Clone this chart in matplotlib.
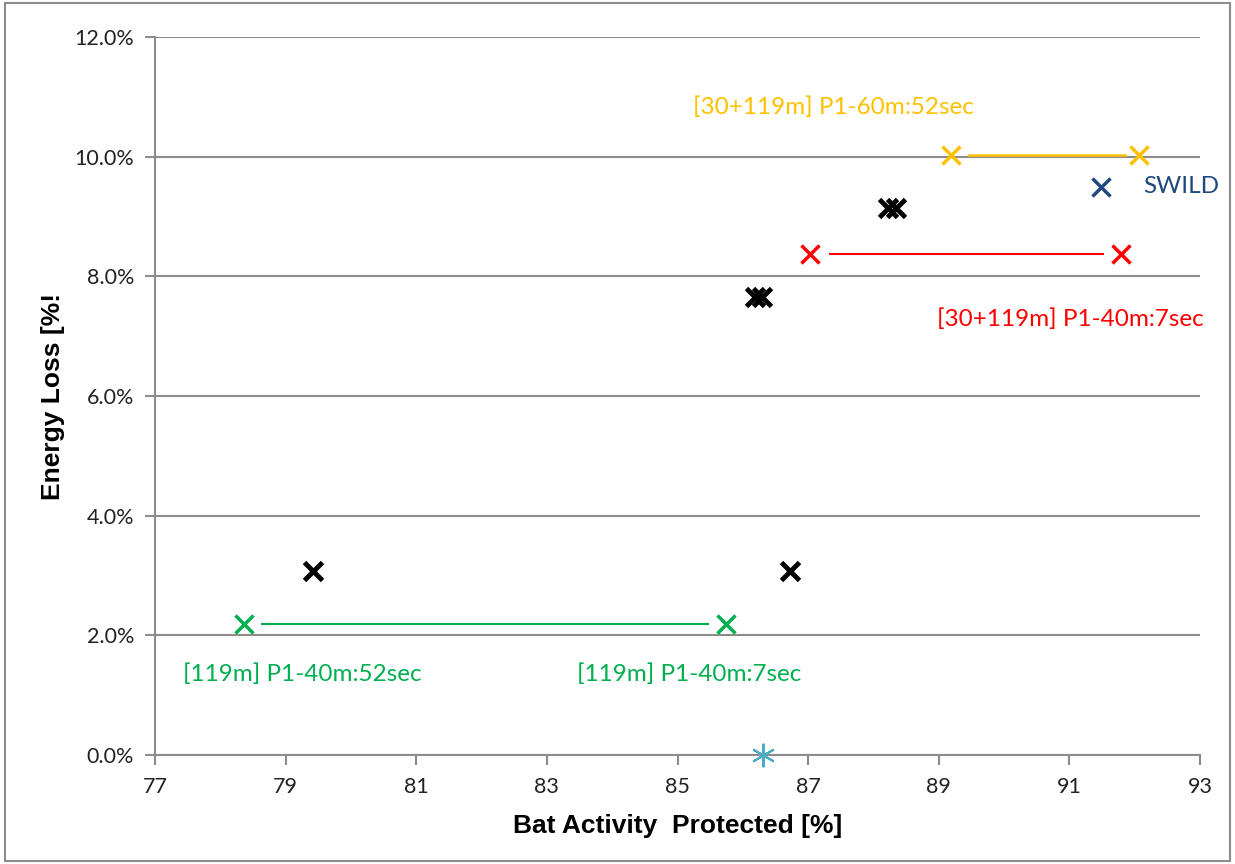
import matplotlib
matplotlib.use("Agg")
import matplotlib.pyplot as plt
from matplotlib.ticker import FuncFormatter
from matplotlib.patches import Rectangle

# data
black_x = [88.22, 88.34, 86.18, 86.30, 79.42, 86.72]
black_y = [9.14, 9.14, 7.65, 7.65, 3.08, 3.08]

yellow_x = [89.19, 92.07]
yellow_y = [10.03, 10.03]
red_x = [87.03, 91.79]
red_y = [8.37, 8.37]
green_x = [78.36, 85.74]
green_y = [2.19, 2.19]

swild_x = [91.49]
swild_y = [9.49]
base_x = [86.31]
base_y = [0.0]

yellow_labels = ["[30+119m] P1-60m:52sec"]
red_labels = ["[30+119m] P1-40m:7sec"]
green_labels = ["[119m] P1-40m:52sec", "[119m] P1-40m:7sec"]

x_ticks = [77, 79, 81, 83, 85, 87, 89, 91, 93]
y_ticks = [0, 2, 4, 6, 8, 10, 12]

YELLOW = "#FFC000"
RED = "#FF0000"
GREEN = "#00B050"
BLUE = "#1F497D"
CYAN = "#4BACC6"
GRID = "#8C8C8C"

plt.rcParams['font.family'] = ['Lato', 'DejaVu Sans']

fig = plt.figure(figsize=(12.35, 8.64), dpi=100)
ax = fig.add_axes([0.1255, 0.1262, 0.9717 - 0.1255, 0.9572 - 0.1262])

# outer chart border
fig.patches.append(Rectangle((0.004, 0.004), 0.992, 0.992, transform=fig.transFigure,
                             fill=False, edgecolor="#8C8C8C", linewidth=1.5))

ms = 13
mew = 2.5
ax.plot(black_x, black_y, linestyle="none", marker="x", color="black",
        markersize=ms, markeredgewidth=3.5, zorder=5)

# connecting lines with small gaps at the markers
ax.plot([yellow_x[0] + 0.28, yellow_x[1] - 0.22], yellow_y, color=YELLOW, linewidth=1.8)
ax.plot([red_x[0] + 0.3, red_x[1] - 0.28], red_y, color=RED, linewidth=1.5)
ax.plot([green_x[0] + 0.28, green_x[1] - 0.28], green_y, color=GREEN, linewidth=1.5)

ax.plot(yellow_x, yellow_y, linestyle="none", marker="x", color=YELLOW,
        markersize=ms, markeredgewidth=mew, zorder=5)
ax.plot(red_x, red_y, linestyle="none", marker="x", color=RED,
        markersize=ms, markeredgewidth=mew, zorder=5)
ax.plot(green_x, green_y, linestyle="none", marker="x", color=GREEN,
        markersize=ms, markeredgewidth=mew, zorder=5)
ax.plot(swild_x, swild_y, linestyle="none", marker="x", color=BLUE,
        markersize=ms, markeredgewidth=mew, zorder=5)
ax.plot(base_x, base_y, linestyle="none", marker=(6, 2, 0), color=CYAN,
        markersize=17, markeredgewidth=1.5, zorder=5, clip_on=False)

# series labels
fs = 17.5
ax.text(85.24, 10.82, yellow_labels[0], color=YELLOW, fontsize=fs, va="center")
ax.text(92.13, 9.5, "SWILD", color=BLUE, fontsize=fs, va="center")
ax.text(88.98, 7.28, red_labels[0], color=RED, fontsize=fs, va="center")
ax.text(77.43, 1.35, green_labels[0], color=GREEN, fontsize=fs, va="center")
ax.text(83.46, 1.35, green_labels[1], color=GREEN, fontsize=fs, va="center")

ax.set_xlim(77, 93)
ax.set_ylim(0, 12)
ax.set_xticks(x_ticks)
ax.set_yticks(y_ticks)
ax.yaxis.set_major_formatter(FuncFormatter(lambda v, p: f"{v:.1f}%"))
ax.tick_params(axis="both", labelsize=15.5, colors="#222222", width=1.5,
               color=GRID, direction="out", length=7)
ax.tick_params(axis="x", pad=9)
ax.tick_params(axis="y", pad=8)

ax.grid(axis="y", color=GRID, linewidth=1.5)
ax.set_axisbelow(True)
for side in ["top", "right"]:
    ax.spines[side].set_visible(False)
for side in ["left", "bottom"]:
    ax.spines[side].set_color(GRID)
    ax.spines[side].set_linewidth(1.5)

ax.set_xlabel("Bat Activity  Protected [%]", fontsize=19, fontweight="bold",
              family="Liberation Sans", labelpad=12)
ax.set_ylabel("Energy Loss [%!", fontsize=19, fontweight="bold",
              family="Liberation Sans", labelpad=7)

fig.savefig("out.png", dpi=100)
